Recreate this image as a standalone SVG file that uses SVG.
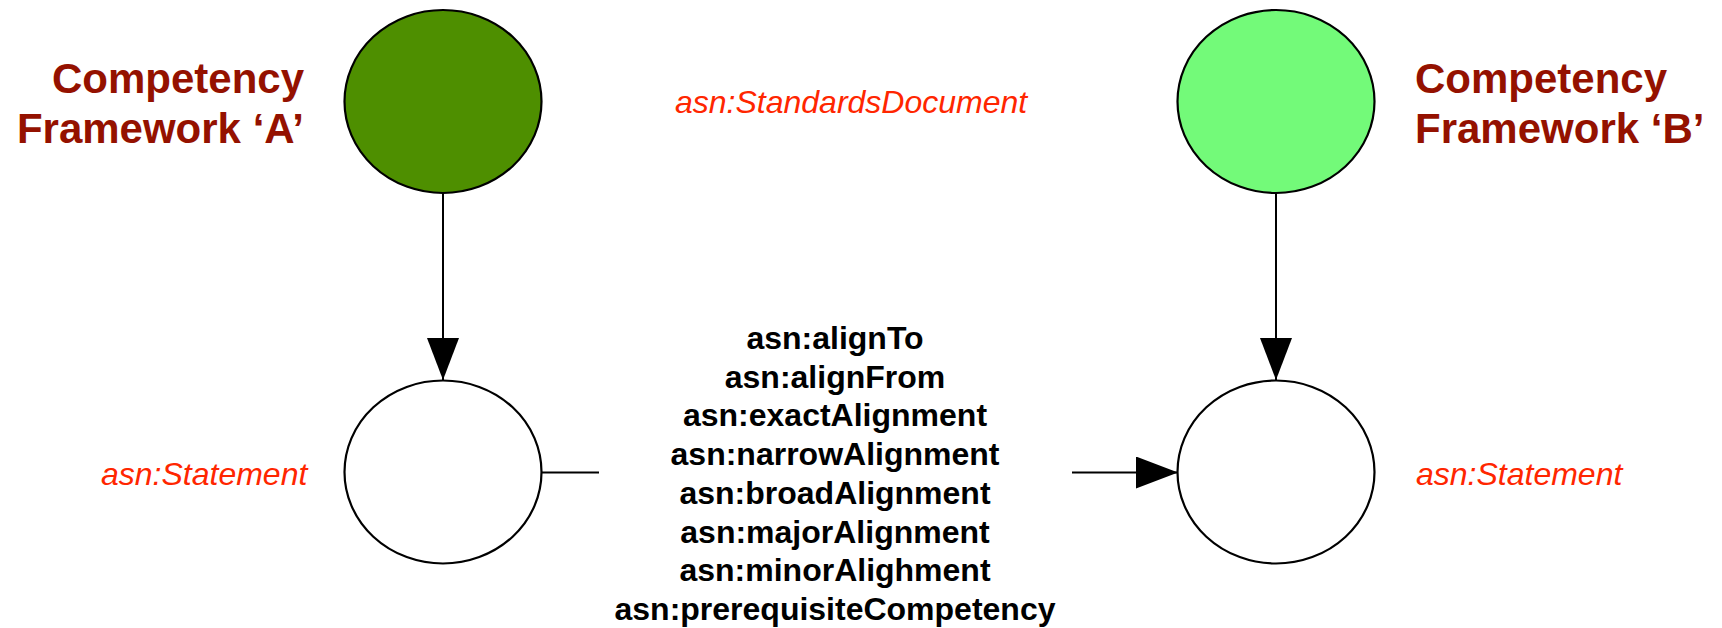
<svg xmlns="http://www.w3.org/2000/svg" width="1722" height="628" viewBox="0 0 1722 628">
<style>
.node{stroke:#000;stroke-width:2.2}
.edge{stroke:#000;stroke-width:2;fill:none}
.title{font-family:"Liberation Sans",Arial,sans-serif;font-weight:bold;font-size:42px;fill:#941100}
.cls{font-family:"Liberation Sans",Arial,sans-serif;font-style:italic;font-size:32px;fill:#FF2600}
.rel{font-family:"Liberation Sans",Arial,sans-serif;font-weight:bold;font-size:32px;fill:#000;text-anchor:middle}
</style>
<defs>
<marker id="arr" viewBox="0 0 42 32" refX="42" refY="16" markerWidth="42" markerHeight="32" markerUnits="userSpaceOnUse" orient="auto">
<path d="M0,0 L42,16 L0,32 Z" fill="#000"/>
</marker>
</defs>
<rect width="1722" height="628" fill="#fff"/>
<g id="connectors">
<line class="edge" x1="443" y1="193" x2="443" y2="380" marker-end="url(#arr)"/>
<line class="edge" x1="1276" y1="193" x2="1276" y2="380" marker-end="url(#arr)"/>
<line class="edge" x1="541" y1="472.5" x2="599" y2="472.5"/>
<line class="edge" x1="1072" y1="472.5" x2="1178" y2="472.5" marker-end="url(#arr)"/>
<g id="edge-labels">
<text class="rel" x="835" y="349">asn:alignTo</text>
<text class="rel" x="835" y="387.7">asn:alignFrom</text>
<text class="rel" x="835" y="426.4">asn:exactAlignment</text>
<text class="rel" x="835" y="465.1">asn:narrowAlignment</text>
<text class="rel" x="835" y="503.9">asn:broadAlignment</text>
<text class="rel" x="835" y="542.6">asn:majorAlignment</text>
<text class="rel" x="835" y="581.3">asn:minorAlighment</text>
<text class="rel" x="835" y="620">asn:prerequisiteCompetency</text>
</g>
</g>
<g id="frameworkA">
<ellipse class="node" cx="443" cy="101.5" rx="98.5" ry="91.5" fill="#4E8F00"/>
<text class="title" x="304" y="93" text-anchor="end">Competency</text>
<text class="title" x="304" y="143" text-anchor="end">Framework ‘A’</text>
</g>
<g id="frameworkB">
<ellipse class="node" cx="1276" cy="101.5" rx="98.5" ry="91.5" fill="#73FA79"/>
<text class="title" x="1415" y="93">Competency</text>
<text class="title" x="1415" y="143">Framework ‘B’</text>
</g>
<g id="standardsDocLabel">
<text class="cls" x="675" y="113">asn:StandardsDocument</text>
</g>
<g id="statementA">
<ellipse class="node" cx="443" cy="472" rx="98.5" ry="91.5" fill="#fff"/>
<text class="cls" x="101" y="485">asn:Statement</text>
</g>
<g id="statementB">
<ellipse class="node" cx="1276" cy="472" rx="98.5" ry="91.5" fill="#fff"/>
<text class="cls" x="1416" y="485">asn:Statement</text>
</g>
</svg>
